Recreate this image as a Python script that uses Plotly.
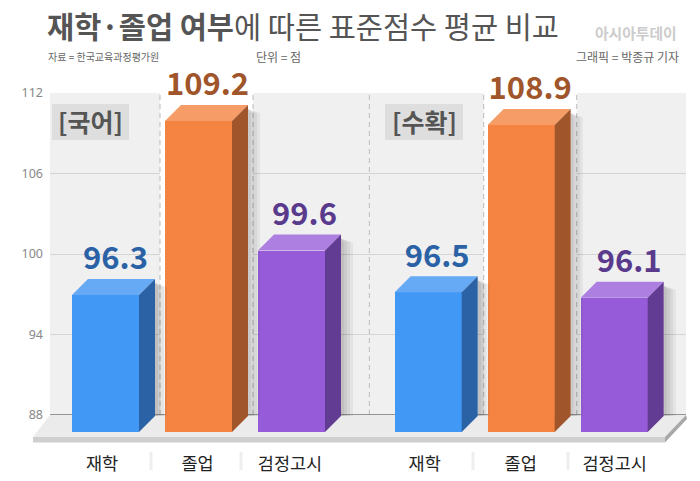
import plotly.graph_objects as go

# data
categories = ["재학", "졸업", "검정고시", "재학", "졸업", "검정고시"]
scores = [96.3, 109.2, 99.6, 96.5, 108.9, 96.1]
subjects = ["[국어]", "[수확]"]
y_ticks = [88, 94, 100, 106, 112]

# colours per bar: front, top, side, label
front_colors = ["#4198f5", "#f58443", "#965bd8", "#4198f5", "#f58443", "#965bd8"]
top_colors = ["#66aaf5", "#f69c66", "#ac7fe0", "#66aaf5", "#f69c66", "#ac7fe0"]
side_colors = ["#2a62a5", "#a0552a", "#623b92", "#2a62a5", "#a0552a", "#623b92"]
label_colors = ["#2a62a5", "#a0552a", "#5a3a8c", "#2a62a5", "#a0552a", "#5a3a8c"]

FONT = "Noto Sans CJK KR"
W, H = 700, 481

# layout constants, all in pixels of the 700x481 page
SLOT = 93.0        # px between neighbouring bars
FIRST_BAR = 105.5  # centre of the first bar
GROUP_GAP = 0.47   # extra slots between the two groups
BAR_W = 67         # px
DEPTH = 16         # px, the fake 3d offset
PX_PER_POINT = 13.49   # bars are drawn on their own front plane
FRONT_TOP_PX = 121     # where scores[1] tops out
FRONT_BOTTOM_PX = 432
AXIS_BOTTOM_PX = 447

slots = [0, 1, 2, 3 + GROUP_GAP, 4 + GROUP_GAP, 5 + GROUP_GAP]
label_nudge = [-3.5, -1, -1.5, -3.5, -0.5, 0.5]  # px, category labels
value_nudge = [10, 9, 13, 9, 9, 15]              # px, value labels


def px_x(px):
    return (px - FIRST_BAR) / SLOT


def val_y(px):
    return scores[1] + (FRONT_TOP_PX - px) / PX_PER_POINT


base_val = val_y(FRONT_BOTTOM_PX)
dx = DEPTH / SLOT
dy = DEPTH / PX_PER_POINT
half = BAR_W / SLOT / 2


def px_rect(x0, y0, x1, y1, **kw):
    return dict(type="rect", xref="paper", yref="paper", x0=x0 / W, x1=x1 / W,
                y0=1 - y0 / H, y1=1 - y1 / H, **kw)


def px_path(points, **kw):
    path = "M" + " L".join(f"{x / W:.5f},{1 - y / H:.5f}" for x, y in points) + " Z"
    return dict(type="path", xref="paper", yref="paper", path=path, **kw)


def poly(xs, ys, color, axis_y="y3"):
    return go.Scatter(x=xs + xs[:1], y=ys + ys[:1], xaxis="x2", yaxis=axis_y, mode="lines",
                      fill="toself", fillcolor=color, line=dict(width=0),
                      hoverinfo="skip", showlegend=False)


fig = go.Figure()

# keeps the x/y subplot alive, it only carries the value axis and the grid
fig.add_trace(go.Scatter(x=[0, 1], y=[88, 112], xaxis="x", yaxis="y", mode="lines",
                         line=dict(width=0), hoverinfo="skip", showlegend=False))

# white columns behind the orange bars, they hide the gridlines
band_centers = [slots[1] + px_x(FIRST_BAR + 8), slots[4] + px_x(FIRST_BAR + 9)]
dash_x = []
for c in band_centers:
    fig.add_trace(poly([c - 0.5, c + 0.5, c + 0.5, c - 0.5], [88, 88, 112.1, 112.1], "white", "y2"))
    dash_x += [c - 0.5, c + 0.5]
dash_x.append((slots[2] + slots[3]) / 2 + px_x(FIRST_BAR + 9.5))

for x in dash_x:
    fig.add_trace(go.Scatter(x=[x, x], y=[88, 112], xaxis="x2", yaxis="y2", mode="lines",
                             line=dict(color="#bbbbbb", width=1, dash="5px,4px"),
                             hoverinfo="skip", showlegend=False))

# dark baseline at 88
fig.add_trace(go.Scatter(x=[px_x(50), px_x(686)], y=[88, 88], xaxis="x2", yaxis="y2", mode="lines",
                         line=dict(color="#777777", width=1.5), hoverinfo="skip", showlegend=False))

# soft shadow right of each bar
for s, v in zip(slots, scores):
    right = s + half + dx
    for w in [3, 6, 9, 12]:
        fig.add_trace(poly([right, right + w / SLOT, right + w / SLOT, right],
                           [v + dy - 0.3, v + dy - 0.6, base_val + dy, base_val + dy],
                           "rgba(60,60,60,0.07)"))

# front faces
fig.add_trace(go.Bar(x=slots, y=[v - base_val for v in scores], base=base_val, width=BAR_W / SLOT,
                     xaxis="x2", yaxis="y3", marker=dict(color=front_colors, line=dict(width=0)),
                     hoverinfo="skip", showlegend=False))

# top and side faces
for s, v, tc, sc in zip(slots, scores, top_colors, side_colors):
    l, r = s - half, s + half
    fig.add_trace(poly([l, r, r + dx, l + dx], [v, v, v + dy, v + dy], tc))
    fig.add_trace(poly([r, r + dx, r + dx, r], [v, v + dy, base_val + dy, base_val], sc))

# value labels
fig.add_trace(go.Scatter(x=[s + n / SLOT for s, n in zip(slots, value_nudge)],
                         y=[v + dy + 17.5 / PX_PER_POINT for v in scores],
                         xaxis="x2", yaxis="y3", mode="text",
                         text=[f"{v:.1f}" for v in scores],
                         textposition="middle center",
                         textfont=dict(family=FONT, size=31, color=label_colors, weight=700),
                         hoverinfo="skip", showlegend=False))

shapes = [
    # panel behind the grid
    px_rect(50, 93, 686, 415, fillcolor="#f0f0f0", line=dict(width=0), layer="below"),
    # floor
    px_path([(33, 437), (50, 415), (686, 415), (665, 437)], fillcolor="#ebebeb", line=dict(width=0), layer="below"),
    px_rect(33, 437, 665, 442.5, fillcolor="#cfcfcf", line=dict(width=0), layer="below"),
    px_path([(665, 437), (686, 415), (687, 419), (665, 442.5)], fillcolor="#a8a8a8", line=dict(width=0), layer="below"),
    # subject badges
    px_rect(52, 104, 129, 140, fillcolor="#dedede", line=dict(width=0), layer="below"),
    px_rect(385, 104, 463, 140, fillcolor="#dedede", line=dict(width=0), layer="below"),
]
# separators between category labels
for x in [151, 241, 473, 568]:
    shapes.append(px_rect(x - 1.5, 452, x + 1.5, 470, fillcolor="#eeeeee", line=dict(width=0), layer="below"))


def note(text, x, y, size, color, anchor="left"):
    return dict(text=text, x=x / W, y=1 - y / H, xref="paper", yref="paper", xanchor=anchor,
                yanchor="middle", showarrow=False, font=dict(family=FONT, size=size, color=color))


annotations = [
    note("<b>재학·졸업 여부</b>에 따른 표준점수 평균 비교", 45, 25, 29.5, "#555555"),
    note("자료 = 한국교육과정평가원", 46, 56, 10, "#666666"),
    note("단위 = 점", 254, 56, 12, "#666666"),
    note("그래픽 = 박종규 기자", 681, 57, 12, "#666666", "right"),
    note("<b>아시아투데이</b>", 679, 33, 14.8, "#cccccc", "right"),
    note("<b>" + subjects[0] + "</b>", 90.5, 121, 25, "#555555", "center"),
    note("<b>" + subjects[1] + "</b>", 424, 121, 25, "#555555", "center"),
]

fig.update_layout(
    width=W, height=H,
    margin=dict(l=0, r=0, t=0, b=0),
    paper_bgcolor="white", plot_bgcolor="rgba(0,0,0,0)",
    showlegend=False,
    bargap=0,
    shapes=shapes,
    annotations=annotations,
    # back plane: the value axis and its gridlines
    xaxis=dict(domain=[50 / W, 686 / W], range=[0, 1], visible=False, automargin=False),
    yaxis=dict(domain=[1 - 415 / H, 1 - 93 / H], range=[88, 112], anchor="x", automargin=False,
               tickvals=y_ticks, ticks="", ticklabelstandoff=6,
               tickfont=dict(family="Noto Sans", size=12.5, color="#888888"),
               showgrid=True, gridcolor="#d4d4d4", gridwidth=1, zeroline=False, showline=False),
    # same scale again, for what has to sit on top of the grid
    yaxis2=dict(domain=[1 - 415 / H, 1 - 93 / H], range=[88, 112], anchor="x2",
                visible=False, automargin=False),
    # front plane: the bars
    xaxis2=dict(domain=[0, 1], range=[px_x(0), px_x(W)], anchor="y3", showgrid=False, automargin=False,
                zeroline=False, ticks="", ticklen=0, ticklabelstandoff=4,
                tickvals=[s + n / SLOT for s, n in zip(slots, label_nudge)], ticktext=categories,
                tickangle=0, tickfont=dict(family=FONT, size=17.5, color="#222222")),
    yaxis3=dict(domain=[1 - AXIS_BOTTOM_PX / H, 1], range=[val_y(AXIS_BOTTOM_PX), val_y(0)],
                anchor="x2", visible=False, automargin=False),
)

# the page's default body margin would push the 700x481 figure off the window
fig.write_html("out.html", config={"displayModeBar": False},
               post_script="document.body.style.margin='0';")
